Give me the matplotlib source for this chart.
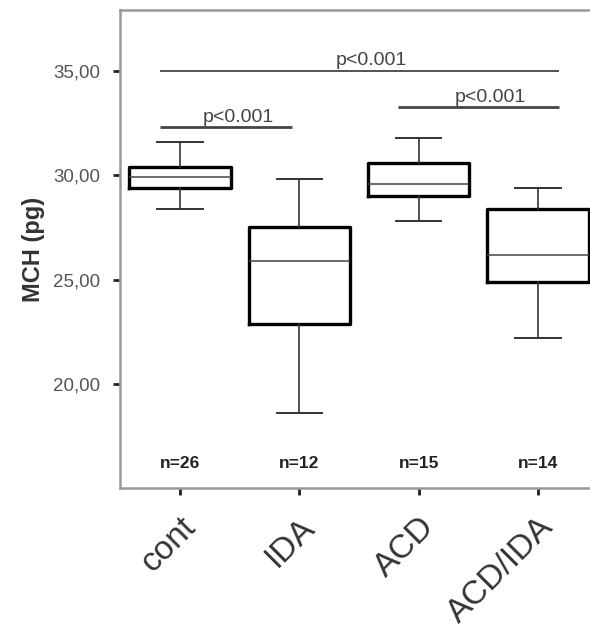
import matplotlib
matplotlib.use('Agg')
import matplotlib.pyplot as plt

plt.rcParams['font.family'] = ['Liberation Sans', 'DejaVu Sans']

# box summary (MCH, pg)
groups = ["cont", "IDA", "ACD", "ACD/IDA"]
counts = [26, 12, 15, 14]
whisk_lo = [28.4, 18.6, 27.8, 22.2]
q1 = [29.4, 22.9, 29.0, 24.9]
median = [29.9, 25.9, 29.6, 26.2]
q3 = [30.4, 27.5, 30.6, 28.4]
whisk_hi = [31.6, 29.8, 31.8, 29.4]

# significance brackets: (start group, end group, height, label)
sig_from = [1, 1, 3]
sig_to = [4, 2, 4]
sig_y = [35.0, 32.3, 33.25]
sig_text = ["p<0.001", "p<0.001", "p<0.001"]

fig = plt.figure(figsize=(5.90, 6.29), dpi=100)
ax = fig.add_axes([0.2034, 0.2242, 0.7966, 0.7599])

stats = []
for i in range(len(groups)):
    stats.append(dict(med=median[i], q1=q1[i], q3=q3[i],
                      whislo=whisk_lo[i], whishi=whisk_hi[i], fliers=[]))

pos = list(range(1, len(groups) + 1))
ax.bxp(stats, positions=pos, widths=0.85, showfliers=False,
       boxprops=dict(color='black', linewidth=2.4),
       medianprops=dict(color='#444444', linewidth=1.1),
       whiskerprops=dict(color='#333333', linewidth=1.2),
       capprops=dict(color='#333333', linewidth=1.4),
       capwidths=0.38)

# brackets
lw = [1.3, 2.0, 2.0]
for a, b, y, t, w in zip(sig_from, sig_to, sig_y, sig_text, lw):
    x0 = a - 0.17
    x1 = b + 0.18 if b != 2 else b - 0.06
    ax.plot([x0, x1], [y, y], color='#444444', linewidth=w, solid_capstyle='butt')
    xm = (x0 + x1) / 2 + 0.1
    ax.text(xm, y + 0.08, t, ha='center', va='bottom', fontsize=14, color='#444444')

# n labels
for p, n in zip(pos, counts):
    ax.text(p, 16.2, "n=%d" % n, ha='center', va='center', fontsize=12.5,
            fontweight='bold', color='#222222')

ax.set_xlim(0.497, 4.437)
ax.set_ylim(15.02, 37.92)
ax.set_yticks([20, 25, 30, 35])
ax.set_yticklabels(["20,00", "25,00", "30,00", "35,00"], fontsize=13.5, color='#555555')
ax.set_xticks(pos)
ax.set_xticklabels(groups, rotation=45, ha='right', rotation_mode='anchor',
                   fontsize=24, color='#333333')
ax.tick_params(axis='both', direction='out', length=5, width=2, color='#222222')
ax.tick_params(axis='x', pad=12)
ax.tick_params(axis='y', pad=9)
ax.set_ylabel("MCH (pg)", fontsize=17, fontweight='bold', color='#333333', labelpad=6)

for s in ['left', 'bottom', 'top']:
    ax.spines[s].set_color('#999999')
    ax.spines[s].set_linewidth(1.8)
ax.spines['right'].set_visible(False)

fig.savefig('out.png', dpi=100, facecolor='white')
